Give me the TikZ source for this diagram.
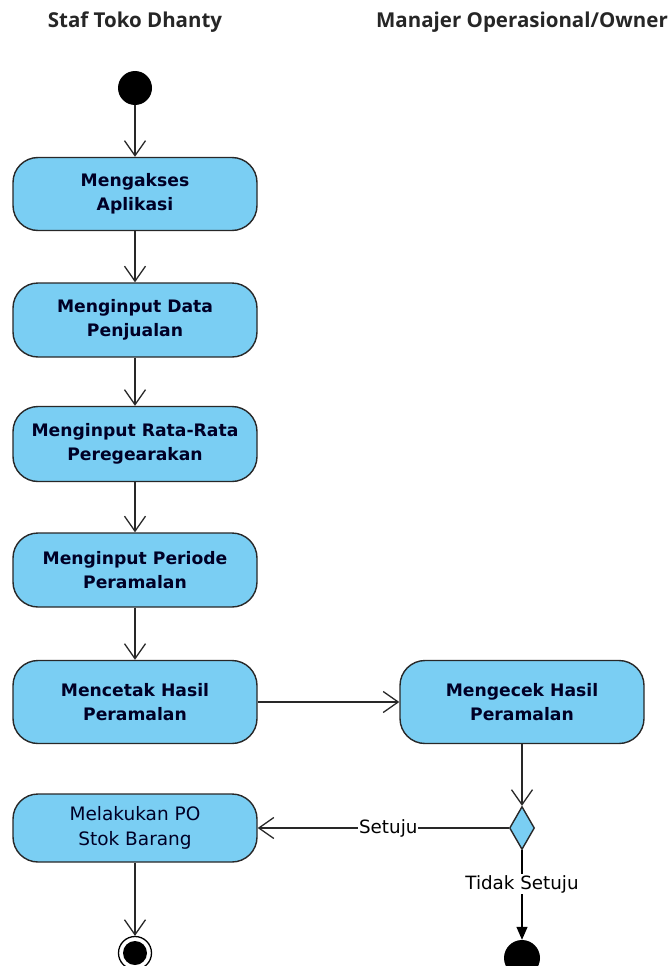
\documentclass[tikz,border=0pt]{standalone}
\usepackage{fontspec}
\setmainfont{DejaVu Sans}
\newfontfamily\titlefont{Open Sans}
\usetikzlibrary{arrows.meta,shapes.geometric}
\definecolor{actfill}{RGB}{122,206,243}
\definecolor{lineC}{RGB}{40,40,40}
\tikzset{
  act/.style={draw=lineC, line width=1.4pt, fill=actfill, rounded corners=25pt,
    minimum width=244pt, align=center, font=\fontsize{17.2}{24}\selectfont\bfseries, text=black!85!blue},
  actplain/.style={act, font=\fontsize{18.5}{25}\selectfont},
  flow/.style={draw=lineC, line width=1.3pt, -{Straight Barb[length=15pt,width=21pt,line width=1.3pt]}},
  flowfilled/.style={draw=black, line width=1.3pt, -{Triangle[length=13pt,width=11pt]}},
  lane/.style={font=\titlefont\fontsize{20.5}{22}\selectfont\bfseries, text=black!85},
  guard/.style={fill=white, inner sep=1pt, font=\fontsize{18.3}{20}\selectfont},
  decision/.style={diamond, draw=lineC, line width=1.4pt, fill=actfill, minimum width=25pt, minimum height=43pt, inner sep=0pt, aspect=0.58},
}
\begin{document}
\begin{tikzpicture}[x=1pt,y=-1pt]
\useasboundingbox (0,0) rectangle (671,966);
\clip (0,0) rectangle (671,966);
\node[lane] (lane1) at (135,22) {Staf Toko Dhanty};
\node[lane] (lane2) at (522,22) {Manajer Operasional/Owner};

\node[circle, fill=black, minimum size=34pt, inner sep=0pt] (start) at (135,88) {};

\node[act, minimum height=73pt] (b1) at (135,194) {Mengakses\\Aplikasi};
\node[act, minimum height=74pt] (b2) at (135,320) {Menginput Data\\Penjualan};
\node[act, minimum height=75pt] (b3) at (135,444) {Menginput Rata-Rata\\Peregearakan};
\node[act, minimum height=74pt] (b4) at (135,570) {Menginput Periode\\Peramalan};
\node[act, minimum height=83pt] (b5) at (135,702) {Mencetak Hasil\\Peramalan};
\node[act, minimum height=83pt] (b6) at (522,702) {Mengecek Hasil\\Peramalan};
\node[actplain, minimum height=68pt] (b7) at (135,828) {Melakukan PO\\Stok Barang};
\node[decision] (d) at (522,828) {};

\node[circle, draw=black, line width=1.3pt, fill=white, minimum size=33pt, inner sep=0pt] (end1) at (135,953) {};
\node[circle, fill=black, minimum size=24pt, inner sep=0pt] (end1in) at (135,953) {};
\node[circle, fill=black, minimum size=36pt, inner sep=0pt] (end2) at (522,958) {};

\draw[flow] (start) -- (b1);
\draw[flow] (b1) -- (b2);
\draw[flow] (b2) -- (b3);
\draw[flow] (b3) -- (b4);
\draw[flow] (b4) -- (b5);
\draw[flow] (b5) -- (b6);
\draw[flow] (b6) -- (d);
\draw[flow] (d) -- node[guard, pos=0.48] (g1) {Setuju} (b7);
\draw[flowfilled] (d) -- node[guard, pos=0.38] (g2) {Tidak Setuju} (end2);
\draw[flow] (b7) -- (end1);
\end{tikzpicture}
\end{document}
